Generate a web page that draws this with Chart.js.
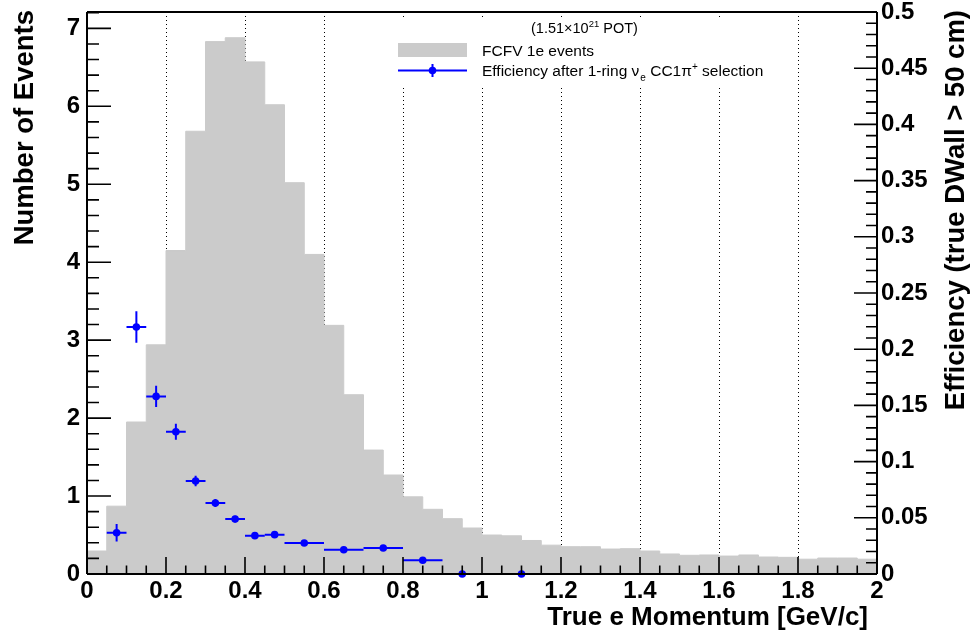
<!DOCTYPE html>
<html>
<head>
<meta charset="utf-8">
<script src="https://cdn.jsdelivr.net/npm/chart.js@4"></script>
<style>
html,body{margin:0;padding:0;background:#fff;}
#wrap{width:975px;height:632px;}
</style>
</head>
<body>
<div id="wrap"><canvas id="c" width="975" height="632"></canvas></div>
<script>
// FCFV 1e events, 0.05 GeV/c bins from 0 to 2 GeV/c
const binWidth = 0.05;
const eventCounts = [
  0.295, 0.87, 1.95, 2.94, 4.15, 5.68, 6.83, 6.88, 6.57, 6.02,
  5.02, 4.10, 3.19, 2.30, 1.59, 1.27, 0.99, 0.83, 0.71, 0.59,
  0.50, 0.49, 0.43, 0.37, 0.35, 0.35, 0.32, 0.325, 0.295, 0.257,
  0.24, 0.244, 0.23, 0.244, 0.218, 0.214, 0.19, 0.205, 0.205, 0.19
];

// efficiency after 1-ring nu_e CC1pi+ selection (right axis)
const effX    = [0.075, 0.125, 0.175, 0.225, 0.275, 0.325, 0.375, 0.425, 0.475, 0.55, 0.65, 0.75, 0.85, 0.95, 1.1];
const effXErr = [0.025, 0.025, 0.025, 0.025, 0.025, 0.025, 0.025, 0.025, 0.025, 0.05, 0.05, 0.05, 0.05, 0.05, 0.1];
const effY    = [0.0367, 0.2198, 0.158, 0.1266, 0.0827, 0.0632, 0.0489, 0.0341, 0.035, 0.0276, 0.0216, 0.0231, 0.0122, 0, 0];
const effYErr = [0.0077, 0.014, 0.0095, 0.0071, 0.0047, 0.0035, 0.003, 0.0025, 0.0025, 0.002, 0.002, 0.002, 0.002, 0, 0];

const gridLines = [0.2, 0.4, 0.6, 0.8, 1.0, 1.2, 1.4, 1.6, 1.8];

const FONT = '"Liberation Sans", Arial, Helvetica, sans-serif';
const BLUE = '#0000ff';
const GREY = '#cbcbcb';

// histogram as a stepped outline: one point per left bin edge, plus the right end
const histPoints = eventCounts.map((v, i) => ({x: i * binWidth, y: v}));
histPoints.push({x: eventCounts.length * binWidth, y: eventCounts[eventCounts.length - 1]});
const effPoints = effX.map((x, i) => ({x: x, y: effY[i]}));

const fmt = v => String(+(+v).toFixed(2));

// fixed axis boxes so the frame sits where ROOT put it
const fixWidth = w => s => { s.width = w; s.paddingTop = 0; s.paddingBottom = 0; };
const fixHeight = h => s => { s.height = h; s.paddingLeft = 0; s.paddingRight = 0; };

// ROOT-like frame: dotted x grid, inward ticks, legend, titles
const rootFrame = {
  id: 'rootFrame',
  beforeDatasetsDraw(chart) {
    const {ctx, chartArea: a, scales} = chart;
    ctx.save();
    ctx.strokeStyle = '#000';
    ctx.lineWidth = 1;
    ctx.setLineDash([1, 3]);
    gridLines.forEach(v => {
      const px = Math.round(scales.x.getPixelForValue(v)) + 0.5;
      ctx.beginPath(); ctx.moveTo(px, a.top); ctx.lineTo(px, a.bottom); ctx.stroke();
    });
    ctx.setLineDash([]);
    // legend box background
    ctx.fillStyle = '#fff';
    ctx.fillRect(392, 17, 380, 68);
    ctx.restore();
  },
  afterDatasetsDraw(chart) {
    const {ctx, scales} = chart;
    const sx = scales.x, sy = scales.y2;
    ctx.save();
    ctx.strokeStyle = BLUE;
    ctx.lineWidth = 2;
    effX.forEach((x, i) => {
      const px = sx.getPixelForValue(x), py = sy.getPixelForValue(effY[i]);
      ctx.beginPath();
      ctx.moveTo(sx.getPixelForValue(x - effXErr[i]), py);
      ctx.lineTo(sx.getPixelForValue(x + effXErr[i]), py);
      if (effYErr[i] > 0) {
        ctx.moveTo(px, sy.getPixelForValue(effY[i] - effYErr[i]));
        ctx.lineTo(px, sy.getPixelForValue(effY[i] + effYErr[i]));
      }
      ctx.stroke();
    });
    ctx.restore();
  },
  afterDraw(chart) {
    const {ctx, chartArea: a, scales} = chart;
    ctx.save();
    ctx.strokeStyle = '#000';
    ctx.lineWidth = 2;
    // frame
    ctx.beginPath();
    ctx.moveTo(a.left, a.top); ctx.lineTo(a.right, a.top);
    ctx.moveTo(a.left, a.top); ctx.lineTo(a.left, a.bottom);
    ctx.moveTo(a.right, a.top); ctx.lineTo(a.right, a.bottom);
    ctx.moveTo(a.left, a.bottom); ctx.lineTo(a.right, a.bottom);
    ctx.stroke();
    // ticks
    ctx.lineWidth = 1.6;
    ctx.beginPath();
    for (let k = 0; k <= 36; k++) {
      const py = scales.y.getPixelForValue(k * 0.2);
      if (py < a.top - 1) continue;
      ctx.moveTo(a.left, py); ctx.lineTo(a.left + (k % 5 === 0 ? 24 : 12), py);
    }
    for (let k = 0; k <= 50; k++) {
      const py = scales.y2.getPixelForValue(k * 0.01);
      ctx.moveTo(a.right, py); ctx.lineTo(a.right - (k % 5 === 0 ? 23 : 11), py);
    }
    for (let k = 0; k <= 40; k++) {
      const px = scales.x.getPixelForValue(k * 0.05);
      ctx.moveTo(px, a.bottom); ctx.lineTo(px, a.bottom - (k % 4 === 0 ? 17 : 8.5));
    }
    ctx.stroke();

    // axis titles
    ctx.fillStyle = '#000';
    ctx.font = 'bold 27.5px ' + FONT;
    ctx.textBaseline = 'alphabetic';
    ctx.textAlign = 'right';
    ctx.save();
    ctx.translate(33, 10); ctx.rotate(-Math.PI / 2);
    ctx.fillText('Number of Events', 0, 0);
    ctx.restore();
    ctx.save();
    ctx.translate(964, 10); ctx.rotate(-Math.PI / 2);
    ctx.fillText('Efficiency (true DWall > 50 cm)', 0, 0);
    ctx.restore();
    ctx.font = 'bold 26px ' + FONT;
    ctx.fillText('True e Momentum [GeV/c]', 868, 625);

    // exposure label
    ctx.textAlign = 'left';
    let x = 531;
    const put = (txt, size, dy) => {
      ctx.font = size + 'px ' + FONT;
      ctx.fillText(txt, x, dy);
      x += ctx.measureText(txt).width;
    };
    put('(1.51\u00d710', 14.5, 33);
    put('21', 9.5, 27);
    put(' POT)', 14.5, 33);

    // legend entries
    ctx.fillStyle = GREY;
    ctx.fillRect(398, 43, 69, 14);
    ctx.strokeStyle = BLUE;
    ctx.lineWidth = 2;
    ctx.beginPath();
    ctx.moveTo(398, 70.5); ctx.lineTo(467, 70.5);
    ctx.moveTo(432.5, 64); ctx.lineTo(432.5, 77);
    ctx.stroke();
    ctx.fillStyle = BLUE;
    ctx.beginPath(); ctx.arc(432.5, 70.5, 3.8, 0, Math.PI * 2); ctx.fill();

    ctx.fillStyle = '#000';
    x = 482;
    put('FCFV 1e events', 15.5, 55.5);
    x = 482;
    put('Efficiency after 1-ring \u03bd', 15.5, 76);
    x += 1;
    put('e', 10, 81);
    put(' CC1\u03c0', 15.5, 76);
    put('+', 10, 70);
    put(' selection', 15.5, 76);
    ctx.restore();
  }
};

const tickFont = {family: FONT, size: 24, weight: 'bold'};

new Chart(document.getElementById('c'), {
  type: 'line',
  data: {
    datasets: [
      {
        label: 'Efficiency after 1-ring selection',
        data: effPoints,
        yAxisID: 'y2',
        showLine: false,
        pointRadius: 3.8,
        pointBackgroundColor: BLUE,
        pointBorderWidth: 0,
        clip: false,
        order: 1
      },
      {
        label: 'FCFV 1e events',
        data: histPoints,
        yAxisID: 'y',
        stepped: true,
        fill: 'origin',
        backgroundColor: GREY,
        borderColor: GREY,
        borderWidth: 1,
        pointRadius: 0,
        order: 2
      }
    ]
  },
  options: {
    responsive: false,
    animation: false,
    devicePixelRatio: 1,
    layout: {padding: {top: 12, left: 0, right: 0, bottom: 0}, autoPadding: false},
    plugins: {legend: {display: false}, tooltip: {enabled: false}},
    scales: {
      x: {
        type: 'linear', min: 0, max: 2,
        grid: {display: false, drawTicks: false}, border: {display: false},
        ticks: {stepSize: 0.2, autoSkip: false, maxRotation: 0, padding: 3, color: '#000', font: tickFont, callback: fmt},
        afterFit: fixHeight(58)
      },
      y: {
        position: 'left', min: 0, max: 7.21,
        grid: {display: false, drawTicks: false}, border: {display: false},
        ticks: {stepSize: 1, includeBounds: false, padding: 7, color: '#000', font: tickFont, callback: fmt},
        afterFit: fixWidth(87)
      },
      y2: {
        position: 'right', min: 0, max: 0.5,
        grid: {display: false, drawTicks: false}, border: {display: false},
        ticks: {stepSize: 0.05, includeBounds: false, padding: 4, color: '#000', font: tickFont, callback: fmt},
        afterFit: fixWidth(98)
      }
    }
  },
  plugins: [rootFrame]
});
</script>
</body>
</html>
